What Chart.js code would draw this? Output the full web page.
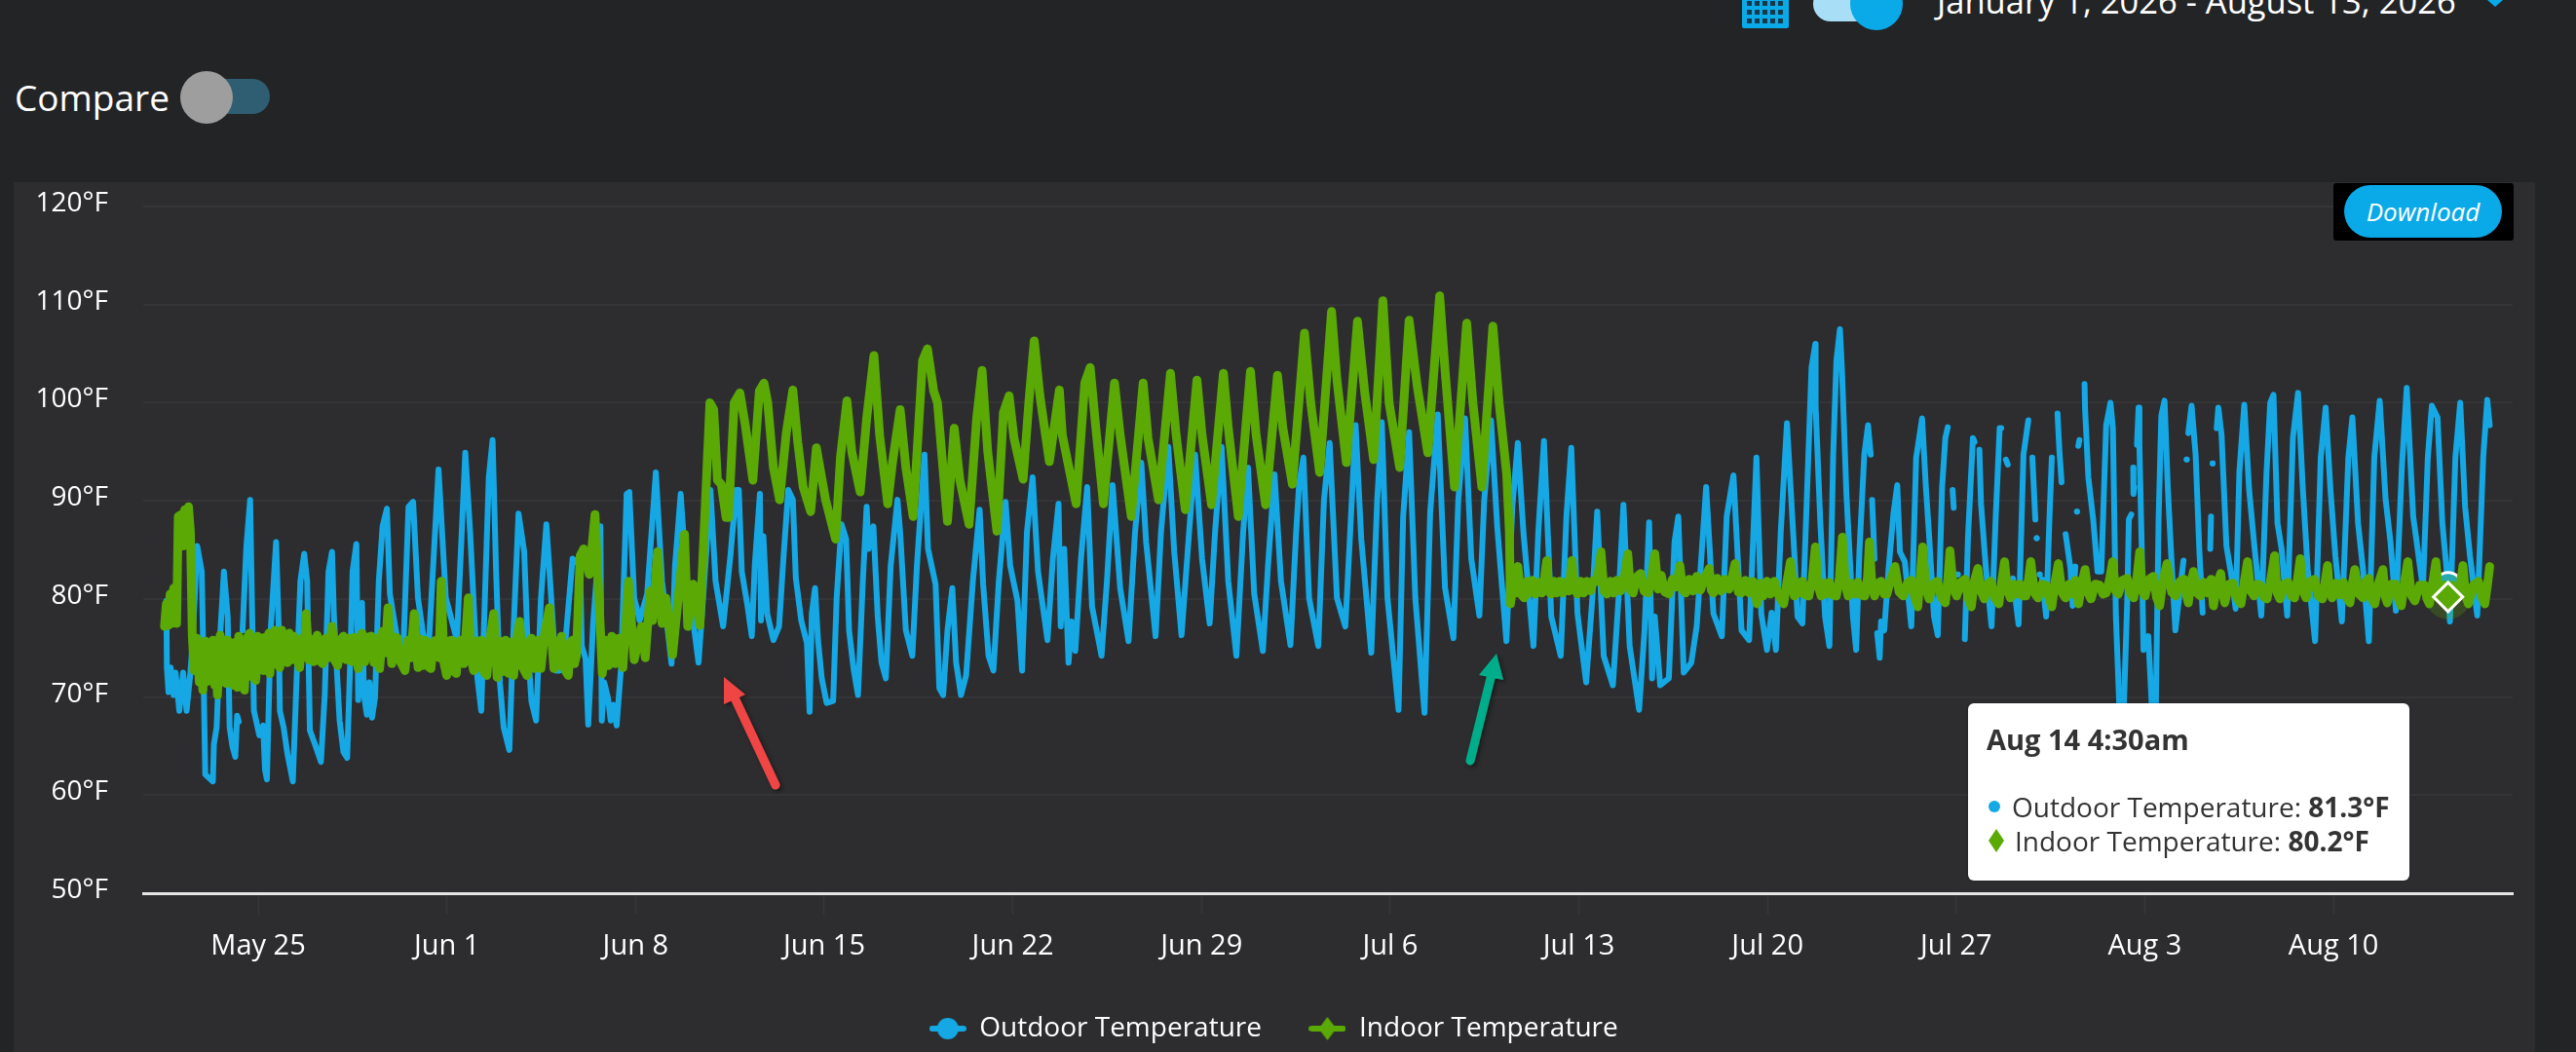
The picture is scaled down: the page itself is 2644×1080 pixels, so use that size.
<!DOCTYPE html>
<html><head><meta charset="utf-8">
<script src="https://cdn.jsdelivr.net/npm/chart.js@4"></script>
<style>
html,body{margin:0;padding:0;background:#232426;width:2644px;height:1080px;overflow:hidden;font-family:"Open Sans",sans-serif;color:#fff}
.abs{position:absolute;white-space:nowrap}
#panel{position:absolute;left:14px;top:187px;width:2588px;height:893px;background:#2d2d2f}
#chartBox{position:absolute;left:0;top:0;width:2588px;height:893px}
#tip{position:absolute;left:2020px;top:722px;width:453px;height:182px;background:#fff;border-radius:6px;color:#333;font-size:28px;box-shadow:0 0 3px rgba(0,0,0,.3)}
#tip div{position:absolute;white-space:nowrap;line-height:36px}
#tip b{font-weight:700}
</style></head><body>
<div id="panel"><div id="chartBox"><canvas id="c" width="2588" height="893"></canvas></div></div>

<div class="abs" style="left:15px;top:74px;font-size:37px;line-height:52px">Compare</div>
<div class="abs" style="left:205px;top:81px;width:72px;height:36px;border-radius:18px;background:#2f5d72"></div>
<div class="abs" style="left:185px;top:73px;width:54px;height:54px;border-radius:50%;background:#9e9e9e"></div>

<svg class="abs" id="cal" style="left:1788px;top:0" width="48" height="30"></svg>
<div class="abs" style="left:1861px;top:-14px;width:60px;height:36px;border-radius:18px;background:#a8dff7"></div>
<div class="abs" style="left:1899px;top:-23px;width:54px;height:54px;border-radius:50%;background:#0aa9e8"></div>
<div class="abs" style="left:1988px;top:-22px;font-size:34.5px;line-height:46px">January 1, 2026 - August 13, 2026</div>
<svg class="abs" style="left:2551px;top:0" width="20" height="8"><path d="M2 0 L10 7 L18 0 Z" fill="#0aa9e8"/></svg>

<div class="abs" style="left:2395px;top:188px;width:185px;height:59px;background:#000;border-radius:3px"></div>
<div class="abs" style="left:2406px;top:190px;width:162px;height:54px;border-radius:27px;background:#0aa9e8;text-align:center;font-style:italic;font-size:26px;line-height:54px">Download</div>

<div id="tip"></div>

<svg class="abs" style="left:0;top:0;pointer-events:none" width="2644" height="1080">
<defs><filter id="sh" x="-30%" y="-30%" width="160%" height="160%"><feDropShadow dx="2" dy="2" stdDeviation="2" flood-color="#000" flood-opacity=".45"/></filter></defs>
<g filter="url(#sh)">
<path d="M796 806 L752 712" stroke="#f04444" stroke-width="9" stroke-linecap="round" fill="none"/>
<path d="M743 695 L765 713 L743 723 Z" fill="#f04444"/>
<path d="M1509 781 L1531 692" stroke="#05ad8a" stroke-width="9" stroke-linecap="round" fill="none"/>
<path d="M1536 671 L1543 698 L1518 693 Z" fill="#05ad8a"/>
</g></svg>

<script>
// x values are days counted from May 25; y values are degrees Fahrenheit.
const tickDays = [0.06,7.04,14.02,21,27.98,34.96,41.94,48.92,55.9,62.88,69.86,76.84];
const tickLabels = ['May 25','Jun 1','Jun 8','Jun 15','Jun 22','Jun 29','Jul 6','Jul 13','Jul 20','Jul 27','Aug 3','Aug 10'];
const tempTicks = [50,60,70,80,90,100,110,120];
const seriesNames = ['Outdoor Temperature','Indoor Temperature'];
const hoverTitle = 'Aug 14 4:30am';
const hoverDay = 81.08;

const outdoorMay = [[-3.34,79.8],[-3.32,73],[-3.26,70.5],[-3.18,73],[-3.07,70.2],[-3,72.5],[-2.86,68.6],[-2.72,72.5],[-2.59,68.6],[-2.45,72.5],[-2.38,75.2],[-2.2,85.4],[-2.03,82.8],[-1.99,76.8],[-1.9,62.1],[-1.62,61.4],[-1.58,65.2],[-1.48,66.9],[-1.35,76.2],[-1.21,82.8],[-1.07,78.2],[-1,66.9],[-0.89,64.9],[-0.79,63.9],[-0.72,68.1],[-0.66,67.5],[-0.6,null],[-0.52,76.8],[-0.38,85.3],[-0.24,90.1],[-0.17,79.1],[-0.1,68.6],[0.1,66.1],[0.24,67.1],[0.31,62.6],[0.38,61.6],[0.52,76.8],[0.72,85.8],[0.82,76.8],[0.86,68.6],[1,66.9],[1.14,64.2],[1.34,61.4],[1.48,71.9],[1.62,81.8],[1.76,84.6],[1.87,81.8],[1.97,66.6],[2.17,65.1],[2.38,63.4],[2.52,70.2],[2.66,82.8],[2.79,84.8],[2.86,78.2],[3.07,67.6],[3.21,64.4],[3.35,63.8],[3.48,75.2],[3.55,82.8],[3.69,85.6],[3.76,69.7],[3.9,79.6],[3.97,70.2],[4.08,68.2],[4.17,71.5],[4.27,67.9],[4.38,69.9],[4.52,81.8],[4.66,87.4],[4.82,89.2],[4.93,80.5],[5.21,75.8],[5.41,73.5],[5.62,89.4],[5.79,89.9],[5.97,80.1],[6.17,76.2],[6.38,75.8]];
const outdoorJune = [[6.73,93.2],[7,80.1],[7.41,75.8],[7.72,94.9],[7.9,86.8],[8.17,71.9],[8.31,68.6],[8.59,92.4],[8.73,96.2],[8.86,82.8],[9,71.5],[9.14,66.9],[9.35,64.6],[9.48,75.2],[9.69,88.7],[9.9,84.8],[10.03,75.2],[10.17,69.5],[10.34,67.6],[10.52,80.1],[10.72,87.6],[10.86,81.8],[11.07,72.7],[11.21,72.7],[11.41,75.2],[11.69,84.1],[11.97,83.4],[12.03,75.2],[12.17,73.9],[12.27,67.2],[12.45,77.5],[12.72,87.4],[12.77,67.6],[12.86,71.5],[13,69.9],[13.1,67.6],[13.21,69.2],[13.32,67.1],[13.48,72.9],[13.69,90.7],[13.79,90.9],[13.97,80.1],[14.17,77.8],[14.45,80.5],[14.77,92.9],[15,81.8],[15.21,76.8],[15.35,73.4],[15.48,83.4],[15.69,90.7],[15.9,82.1],[16.1,78.8],[16.35,73.5],[16.52,80.1],[16.79,91.1],[16.98,81.8],[17.26,77.2],[17.53,84.4],[17.74,91.1],[17.84,91.1],[17.95,82.8],[18.15,79.5],[18.32,76.2],[18.43,83.4],[18.62,90.7],[18.66,77.8],[18.75,86.4],[18.89,78.5],[19.12,75.8],[19.33,77.2],[19.49,84.1],[19.67,91.1],[19.84,90.1],[19.95,82.1],[20.15,77.8],[20.36,75.5],[20.46,68.5],[20.54,78.5],[20.66,81.1],[20.77,75.8],[20.91,71.9],[21.09,69.4],[21.33,69.6],[21.46,80.1],[21.64,87.6],[21.81,86.1],[21.92,76.8],[22.09,72.8],[22.25,70.2],[22.43,81.8],[22.57,89.4],[22.64,85.1],[22.82,87.4],[22.98,78.2],[23.12,73.5],[23.28,71.9],[23.46,83.4],[23.71,90.1],[23.81,86.8],[24.02,76.8],[24.26,74.2],[24.43,83.4],[24.71,94.7],[24.84,85.1],[25.12,81.5],[25.26,70.9],[25.4,70.2],[25.56,76.8],[25.74,81.1],[25.88,73.5],[26.06,70.2],[26.25,72.2],[26.5,81.8],[26.75,89.1],[26.88,81.5],[27.08,74.2],[27.26,72.7],[27.46,81.8],[27.71,89.9],[27.88,83.4],[28.15,79.8],[28.32,72.7],[28.5,86.8],[28.71,92.4],[28.91,82.8],[29.26,75.8],[29.46,84.1],[29.67,89.7],[29.75,77.2],[29.88,85.1],[30.04,73.5],[30.15,77.7],[30.29,74.7],[30.5,84.1],[30.73,91.4],[30.91,79.2],[31.26,74.2],[31.46,81.8],[31.67,91.6],[31.95,81.1],[32.26,75.7],[32.5,86.8],[32.73,93.9],[32.91,85.8],[33.26,76.2],[33.46,86.8],[33.73,95.5],[33.95,84.8],[34.22,76.3],[34.5,86.8],[34.72,94.7],[34.98,84.1],[35.26,77.5],[35.46,86.8],[35.7,95.5],[35.95,81.8],[36.25,74.2],[36.5,86.8],[36.68,93.4],[36.91,80.5],[37.23,74.7]];
const outdoorJuly = [[37.42,83.4],[37.66,92.7],[37.9,81.8],[38.25,75.3],[38.46,86.8],[38.57,91.7],[38.73,94.4],[38.94,80.1],[39.28,75.2],[39.49,90.1],[39.7,95.9],[39.97,80.1],[40.28,77.2],[40.46,86.8],[40.66,97.7],[40.87,86.1],[41.24,74.5],[41.46,90.1],[41.63,98],[41.84,80.1],[42.04,74.5],[42.25,68.7],[42.42,88.4],[42.64,97],[42.87,80.1],[43.21,68.4],[43.42,88.8],[43.7,98.8],[43.97,81.1],[44.28,76],[44.46,90.1],[44.71,98.4],[44.94,84.1],[45.24,78.3],[45.42,90.1],[45.67,98.2],[45.9,87.4],[46.24,75.7],[46.46,89.4],[46.66,95.9],[46.87,86.8],[47.24,75.2],[47.42,86.8],[47.63,96.1],[47.9,78.2],[48.25,74.2],[48.46,88.4],[48.64,95.4],[48.87,78.5],[49.19,71.5],[49.42,80.1],[49.6,88.9],[49.84,74.2],[50.18,71.2],[50.39,80.1],[50.57,89.6],[50.8,75.2],[51.15,68.7],[51.35,76.8],[51.52,87.8],[51.63,71.9],[51.73,78.2],[51.93,71.2],[52.25,71.9],[52.46,85.8],[52.6,88.4],[52.8,72.5],[53.08,73.5],[53.28,77.2],[53.63,91.4],[53.9,78.5],[54.21,76.2],[54.39,88.4],[54.64,92.6],[54.94,76.8],[55.22,75.8],[55.49,94.4],[55.67,78.5],[55.88,74.8],[56.05,78.6],[56.21,74.8],[56.39,86.8],[56.62,97.9],[56.89,84.8],[57.01,78.2],[57.19,77.5],[57.37,91.4],[57.53,103.6],[57.67,106],[57.68,99.7],[57.85,88.1],[58.03,78.2],[58.19,75.2],[58.33,94.7],[58.45,104.3],[58.58,107.5],[58.66,103],[58.82,90.7],[59.06,78.2],[59.18,74.8],[59.3,84.8],[59.48,94.7],[59.62,97.7],[59.72,94.7],[59.74,null],[59.77,90.1],[59.86,84.1],[59.9,null],[59.96,76.5],[60.05,74],[60.1,77.7],[60.22,76.8],[60.38,83.1],[60.56,88.7],[60.7,91.6],[60.8,84.8],[60.98,83.8],[61.22,77.2],[61.4,94.4],[61.62,98.4],[61.76,91.4],[61.88,86.4],[62.06,78.2],[62.2,76.3],[62.36,91.4],[62.48,96.4],[62.57,97.5],[62.65,null],[62.75,91.1],[62.79,89.3],[62.85,null],[62.94,82.5],[63,null],[63.2,75.9],[63.32,86.4],[63.5,96.4],[63.56,96],[63.65,null],[63.74,95.2],[63.8,89.7],[63.98,83.1],[64.19,77.2],[64.34,88.1],[64.49,97.4],[64.55,97.4],[64.65,null],[64.72,94.2],[64.79,93.7],[64.9,null],[64.98,82.1],[65.19,77.4],[65.37,94.7],[65.55,98.2],[65.62,null],[65.7,94.4],[65.81,88.1],[65.83,null],[65.86,86.2],[65.91,null],[65.97,82.5],[66.02,null],[66.06,82],[66.21,78.2],[66.33,88.1],[66.42,94.4],[66.53,null]];
const outdoorAugust = [[66.63,98.9],[66.7,95.1],[66.78,91.9],[66.86,null],[66.93,86.6],[67.11,83.1],[67.19,79.3],[67.29,83.3],[67.32,null],[67.35,88.9],[67.38,null],[67.4,95.6],[67.44,96.2],[67.55,null],[67.63,101.9],[67.65,99.3],[67.77,92.4],[67.95,88.1],[68.11,82.8],[68.25,82.8],[68.43,97.7],[68.59,100],[68.68,97.4],[68.79,78.2],[68.91,69.5],[68.97,66],[69.05,66],[69.09,69.5],[69.21,79.8],[69.27,88.1],[69.36,88.6],[69.39,null],[69.43,93.4],[69.44,90.7],[69.47,91.4],[69.52,null],[69.57,95.7],[69.63,99.5],[69.66,95.7],[69.75,84.8],[69.81,74.8],[69.99,76.2],[70.11,69.5],[70.16,66],[70.24,66],[70.27,69.5],[70.37,88.1],[70.47,98.7],[70.59,100.2],[70.71,91.4],[70.83,84.8],[70.99,76.8],[71.14,80.4],[71.29,83.9],[71.35,null],[71.41,94.2],[71.44,null],[71.47,96.9],[71.59,99.7],[71.74,94.7],[71.88,84.8],[72,78.6],[72.1,null],[72.28,85.1],[72.31,88.4],[72.34,null],[72.37,93.8],[72.42,null],[72.52,97.4],[72.58,99.5],[72.7,96.7],[72.88,85.4],[73.06,82.4],[73.22,79],[73.36,93],[73.54,99.8],[73.72,91.1],[73.9,85.8],[74.17,78.3],[74.36,92.7],[74.5,100],[74.62,100.8],[74.77,87.7],[74.92,85.1],[75.13,78.3],[75.34,96.4],[75.53,101],[75.71,91.1],[75.89,82.8],[76.16,75.7],[76.37,94.4],[76.55,99.5],[76.73,91.1],[76.91,84.4],[77.15,77.7],[77.39,94.4],[77.54,98.5],[77.75,87.7],[77.93,83.1],[78.15,75.7],[78.35,94.4],[78.55,100.2],[78.77,90.1],[78.95,85.8],[79.15,78.8],[79.37,93.4],[79.55,101.5],[79.79,88.4],[80.15,81.1],[80.33,94.4],[80.48,99.7],[80.69,98.5],[80.87,87.7],[81.08,81.3],[81.15,77.7],[81.35,94.4],[81.53,100],[81.71,89.4],[81.89,84.4],[82.16,78.3],[82.38,94.4],[82.53,100.3],[82.62,97.7]];

const indoorStart = [[-3.41,77.2],[-3.34,79.5],[-3.27,77.3],[-3.2,80.5],[-3.14,77.5],[-3.07,81.1],[-2.96,77.5],[-2.9,88.4],[-2.79,88.6],[-2.72,85.4],[-2.66,89.1],[-2.59,85.8],[-2.52,89.4],[-2.45,86.8],[-2.38,76.2],[-2.31,72.7],[-2.21,76],[-2.12,71.5],[-2.05,75.6],[-1.99,70.7],[-1.9,75.7],[-1.83,71.6],[-1.76,75.4],[-1.69,71.9],[-1.62,75.8],[-1.55,71.2],[-1.5,75.2],[-1.45,70.2],[-1.35,76.3],[-1.28,72.1],[-1.21,75.8],[-1.14,71.4],[-1.07,75.8],[-1,71.6],[-0.93,75.4],[-0.86,71.2],[-0.79,75.6],[-0.72,71],[-0.66,76.2],[-0.58,72.2],[-0.52,75.7],[-0.45,70.7],[-0.37,75.9],[-0.27,76.5],[-0.2,72.1],[-0.1,75.8],[-0.03,71.7],[0.03,76.2],[0.1,72.8],[0.17,76],[0.24,72.7],[0.31,76.1],[0.38,73],[0.45,76.5],[0.49,72.4],[0.58,76.2],[0.68,76.8],[0.76,73.4],[0.86,73],[0.93,76.8],[1,73.6],[1.07,76.3],[1.14,73.5],[1.21,76.5],[1.3,73.8],[1.38,76.2],[1.48,74],[1.59,73],[1.68,76],[1.76,74.4],[1.83,78.5],[1.93,73.8],[2.02,75.9],[2.1,73.6],[2.24,76.3],[2.33,73.7],[2.45,73.4],[2.55,76],[2.66,74],[2.79,77.2],[2.9,73.7],[3,73.2],[3.1,75.8],[3.21,76.2],[3.31,73.8],[3.41,76],[3.52,73.6],[3.62,76.1],[3.76,72.9],[3.9,76.5],[4,73.6],[4.12,76.1],[4.24,76.2],[4.34,73.5],[4.44,76],[4.55,72.9],[4.66,76.7],[4.76,74.5],[4.86,79.1],[5,73.4],[5.1,76.1],[5.21,76],[5.32,73.6],[5.49,72.7],[5.6,75.8],[5.7,74],[5.83,78.5],[5.97,73],[6.06,75.9],[6.14,73.2],[6.24,75.8],[6.35,73.1],[6.45,72.9],[6.55,75.7],[6.66,75.8],[6.75,74],[6.83,81.8],[6.93,73.5],[7.03,72.2],[7.12,75.7],[7.21,75.8],[7.3,72.6],[7.39,72.4],[7.47,75.6],[7.55,75.8],[7.66,73.4],[7.75,76.8],[7.83,80.1],[7.93,74],[8.03,72.7],[8.12,75.7],[8.22,73],[8.31,75.8],[8.42,72.5],[8.52,72.2],[8.63,75.9],[8.77,78.5],[8.9,72],[9,75.7],[9.11,72.6],[9.21,75.8],[9.32,72.4],[9.42,75.6],[9.51,72.2],[9.62,75.9],[9.73,77.7],[9.85,73],[10,72.2],[10.08,75.6],[10.17,76],[10.28,72.9],[10.4,75.8],[10.52,72.9],[10.65,76.4],[10.83,79.1],[11,72.9],[11.09,75.7],[11.18,73.2],[11.28,76.2],[11.4,72.8],[11.53,72.2],[11.62,75.6],[11.69,75.8],[11.76,73.4],[11.83,74.2]];
const indoorJune = [[11.97,84.4],[12.1,85.1],[12.31,82.5],[12.52,88.6],[12.63,82.1],[12.72,76.8],[12.79,72.4],[12.9,75.8],[13.02,73.2],[13.14,76.2],[13.26,73.4],[13.4,76],[13.55,73],[13.76,81.8],[13.97,73.8],[14.24,77.2],[14.38,74],[14.56,80.8],[14.65,77.8],[14.83,84.8],[15,77.5],[15.14,80.1],[15.39,74.3],[15.83,86.6],[15.95,77.2],[16.15,81.5],[16.4,77.3],[16.77,100],[16.91,99.3],[17.05,92.1],[17.19,91.7],[17.37,88.3],[17.46,88.3],[17.67,100],[17.88,101],[18.08,97.7],[18.36,92.1],[18.6,101.2],[18.77,102],[18.91,100],[19.12,93.4],[19.35,90.1],[19.6,97],[19.84,101.3],[20.02,96],[20.22,91.4],[20.5,88.9],[20.71,95.4],[21.05,90.1],[21.42,86.1],[21.6,94.4],[21.84,100.2],[22.02,95],[22.33,90.9],[22.57,98.4],[22.84,104.8],[23.05,96.7],[23.35,89.7],[23.53,94],[23.81,99.3],[24.02,93.4],[24.29,88.4],[24.64,104.3],[24.82,105.5],[25.05,101.2],[25.19,100],[25.56,87.9],[25.81,97.4],[26.02,92.1],[26.36,87.6],[26.64,98.4],[26.84,103.3],[27.05,95],[27.39,86.9],[27.63,99],[27.84,100.7],[28.02,96.4],[28.36,92.2],[28.57,100],[28.77,106.3],[28.98,100.7],[29.33,94],[29.7,101.3],[29.81,96.7],[30.32,89.7],[30.64,102],[30.84,103.6],[31.05,97.4],[31.33,89.7],[31.74,102],[31.95,96.7],[32.36,88.4],[32.8,102],[32.98,96.4],[33.37,90.1],[33.81,103],[34.02,96.7],[34.36,89.1],[34.79,102.3],[34.98,96.7],[35.33,89.6],[35.77,103],[35.95,97.4],[36.32,88.4],[36.77,103.2],[36.98,96.7],[37.33,89.6]];
const indoorHeat = [[37.77,102.8],[37.97,97.4],[38.32,91.7],[38.77,107.1],[39,100],[39.33,92.9],[39.77,109.3],[39.97,102.3],[40.32,93.9],[40.73,108.3],[41,101],[41.33,94.2],[41.67,110.4],[41.9,100],[42.29,93.4],[42.64,108.4],[42.94,101.7],[43.33,94.9],[43.77,110.9],[43.97,103.3],[44.32,91.4],[44.77,108.1],[45,100],[45.33,91.4],[45.74,107.8],[45.97,100],[46.25,92.7],[46.35,86.8],[46.39,79.5]];
const indoorBandJuly = [[46.5,81.7],[46.58,80.6],[46.66,83.3],[46.78,80.5],[46.9,80.1],[47,81.8],[47.1,80.6],[47.2,81.9],[47.32,80.5],[47.44,81.7],[47.55,80.6],[47.65,82.2],[47.73,83.9],[47.82,80.7],[47.9,80.5],[48,81.8],[48.1,80.6],[48.2,81.8],[48.32,80.6],[48.44,81.7],[48.55,80.8],[48.66,83.9],[48.76,81],[48.87,80.5],[48.98,81.8],[49.1,80.6],[49.22,81.8],[49.35,80.8],[49.47,81.9],[49.6,81.8],[49.74,84.8],[49.85,80.8],[49.97,80.5],[50.08,81.8],[50.2,80.6],[50.32,81.9],[50.46,80.8],[50.6,82.2],[50.73,84.6],[50.83,80.9],[50.93,80.6],[51.05,82.2],[51.21,82.6],[51.33,80.8],[51.49,80.6],[51.6,82.1],[51.73,84.6],[51.85,81],[51.97,82.4],[52.1,80.7],[52.25,80.5],[52.38,82],[52.52,81.2],[52.66,83.4],[52.76,80.9],[52.87,80.6],[53,82],[53.14,80.8],[53.28,82.3],[53.42,80.9],[53.58,82.2],[53.74,83.1],[53.82,80.9],[53.9,80.6],[54.04,82.1],[54.18,80.8],[54.32,82],[54.48,81],[54.6,82.4],[54.7,83.6],[54.82,80.7],[54.94,80.6],[55.08,81.9],[55.22,80.6],[55.36,81.8],[55.51,79.5],[55.62,81.6],[55.74,80.3],[55.87,81.8],[56,80.5],[56.15,81.8],[56.3,80.4],[56.5,79.5],[56.62,81.8],[56.75,83.8],[56.89,80.3],[57.02,81.7],[57.12,80.6],[57.19,81.8],[57.31,80.4],[57.43,80.3],[57.55,81.9],[57.67,85.3],[57.78,81.3],[57.88,80.3],[57.98,81.6],[58.08,80.5],[58.18,81.7],[58.32,80.4],[58.45,80.3],[58.56,82.2],[58.67,86.3],[58.78,81.4],[58.88,80.3],[59,81.6],[59.12,80.5],[59.24,81.7],[59.37,80.4],[59.5,80.3],[59.6,82.2],[59.67,85.8],[59.76,81.5],[59.86,80.3],[59.98,81.6],[60.1,81.8],[60.21,80.5],[60.32,80.5],[60.46,82],[60.62,83.3],[60.77,80.7],[60.92,80.3],[61.07,81.6],[61.22,81.9],[61.34,80.2],[61.46,79.2],[61.55,82.3],[61.64,85.3],[61.76,81],[61.88,80],[62.03,81.5],[62.18,81.8],[62.33,80.2],[62.48,79.6],[62.57,82],[62.65,84.9],[62.78,81],[62.9,80.3],[63.05,81.7],[63.2,82],[63.32,80.1],[63.44,79.2],[63.56,81.9],[63.68,83.1],[63.8,80.8],[63.92,80],[64.04,81.5],[64.16,81.8],[64.31,80.1],[64.46,79.5],[64.57,81.9],[64.67,83.8],[64.78,80.8],[64.89,80.1],[65.02,81.5],[65.14,80.5],[65.25,81.5]];
const indoorBandAugust = [[65.36,80.3],[65.46,80.3],[65.55,81.9],[65.64,83.8],[65.78,80.6],[65.91,80.1],[66.06,81.5],[66.21,81.4],[66.32,80],[66.42,79.2],[66.54,81.8],[66.66,83.6],[66.8,80.6],[66.93,80.1],[67.05,81.5],[67.17,80.5],[67.29,81.9],[67.41,79.5],[67.53,81.6],[67.65,83],[67.76,80.6],[67.87,80],[68.03,81.5],[68.19,81.4],[68.31,80.5],[68.43,80.6],[68.55,81.9],[68.67,83.8],[68.78,80.8],[68.88,80.5],[69.04,81.9],[69.21,82.1],[69.33,80.5],[69.45,80.1],[69.56,82],[69.67,84.8],[69.77,80.8],[69.87,80.3],[70.02,82],[70.17,82.3],[70.29,80.2],[70.41,79.3],[70.54,82],[70.68,83.6],[70.85,80.7],[71.01,80.3],[71.16,81.8],[71.32,82],[71.4,80.4],[71.47,79.6],[71.56,81.6],[71.66,82.8],[71.79,80.6],[71.92,80.3],[72.05,81.7],[72.18,80.6],[72.31,82],[72.4,79.3],[72.53,81.5],[72.67,82.6],[72.75,80.5],[72.82,79.6],[72.97,81.5],[73.12,81.6],[73.27,80.1],[73.42,79.5],[73.54,81.8],[73.66,83.8],[73.78,80.8],[73.9,80.3],[74.02,81.5],[74.14,81.4],[74.26,80.2],[74.38,80],[74.52,82],[74.66,84.4],[74.76,80.6],[74.86,80],[75.01,81.5],[75.16,81.7],[75.28,80.3],[75.4,80.1],[75.5,81.9],[75.61,84.1],[75.72,80.7],[75.83,80.1],[75.98,81.8],[76.13,82],[76.28,80.3],[76.43,80],[76.53,81.8],[76.62,83.4],[76.7,80.7],[76.79,80.1],[76.93,81.6],[77.07,80.4],[77.21,81.7],[77.33,80.1],[77.45,79.6],[77.54,81.6],[77.63,83],[77.78,80.5],[77.93,80.1],[78.04,81.8],[78.15,82.1],[78.26,80],[78.37,79.5],[78.52,81.7],[78.67,83],[78.75,80.3],[78.83,79.6],[78.98,81.5],[79.13,81.5],[79.24,80],[79.35,79.3],[79.47,81.8],[79.59,83.8],[79.72,80.4],[79.85,79.8],[80.03,81.4],[80.21,81.4],[80.3,80],[80.39,79.5],[80.51,81.6],[80.63,83.8],[80.72,80.8],[80.81,80.5],[80.94,81.4],[81.08,80.2],[81.22,81.4],[81.35,81],[81.49,80.4],[81.63,83.4],[81.73,80.3],[81.83,79.5],[82.02,81.4],[82.2,81.8],[82.32,80.2],[82.44,79.5],[82.53,81.3],[82.62,83.3]];

const outdoorSeries = [...outdoorMay,...outdoorJune,...outdoorJuly,...outdoorAugust];
const indoorSeries = [...indoorStart,...indoorJune,...indoorHeat,...indoorBandJuly,...indoorBandAugust];

const BLUE='#15a8e5', GREEN='#5aa905', GRID='#353537';
const FONT='"Open Sans",sans-serif';
const toPts = s => s.map(([x,y])=>({x,y}));

function legendMark(kind,color){
  const c=document.createElement('canvas'); c.width=38; c.height=26;
  const g=c.getContext('2d'); g.fillStyle=color;
  g.beginPath(); g.roundRect(0,10,38,6,3); g.fill();
  g.beginPath();
  if(kind==='circle'){ g.arc(19,13,11,0,Math.PI*2); }
  else { g.moveTo(19,1); g.lineTo(28,13); g.lineTo(19,25); g.lineTo(10,13); g.closePath(); }
  g.fill();
  return c;
}
const legendMarks=[legendMark('circle',BLUE),legendMark('diamond',GREEN)];

(function(){
  let h='<rect x="0" y="-6" width="48" height="35" rx="2" fill="#0aa9e8"/>';
  [1,10,19].forEach(y=>[5,13,21,29,37].forEach(x=>{h+=`<rect x="${x}" y="${y}" width="5" height="5" fill="#17384a"/>`;}));
  document.getElementById('cal').innerHTML=h;
})();

function htmlTip({tooltip}){
  const el=document.getElementById('tip');
  const pts=tooltip.dataPoints||[];
  if(!pts.length) return;
  const marks=[`<svg width="14" height="14" style="position:absolute;left:20px;top:11px"><circle cx="7" cy="7" r="6" fill="${BLUE}"/></svg>`,
               `<svg width="16" height="24" style="position:absolute;left:21px;top:6px"><path d="M8 0L16 12L8 24L0 12Z" fill="${GREEN}"/></svg>`];
  let h=`<div style="left:19px;top:19px;font-weight:700;font-size:29px">${tooltip.title[0]}</div>`;
  pts.forEach((p,i)=>{
    const top=88+i*35;
    h+=`<div style="left:0;top:${top}px;width:100%;height:36px">${marks[i]}<span style="position:absolute;left:${i?48:45}px;top:0">${p.dataset.label}: <b>${p.parsed.y.toFixed(1)}°F</b></span></div>`;
  });
  el.innerHTML=h;
}

const haloPlugin={
  id:'halo',
  afterLayout(chart){ const lg=chart.legend; if(lg){ lg.left+=11; lg.right+=11; } },
  afterDatasetDraw(chart,args){
    if(args.index!==0) return;
    const pts=chart.getActiveElements().filter(a=>a.datasetIndex===1);
    if(!pts.length) return;
    const g=chart.ctx,p=pts[0].element;
    g.save(); g.fillStyle='rgba(90,169,5,0.25)';
    g.beginPath(); g.arc(p.x,p.y,23,0,Math.PI*2); g.fill(); g.restore();
  }
};

const isolated = ctx => {
  const d=ctx.dataset.data,i=ctx.dataIndex;
  if(!d[i]||d[i].y===null) return 0;
  const a=d[i-1],b=d[i+1];
  return (a&&a.y===null&&b&&b.y===null)?3:0;
};

const PLOT_BOTTOM_BAND=163;
const chart=new Chart(document.getElementById('c'),{
  type:'line',
  plugins:[haloPlugin],
  data:{datasets:[
    {label:seriesNames[0],data:toPts(outdoorSeries),order:2,borderColor:BLUE,backgroundColor:BLUE,borderWidth:6,
     borderCapStyle:'round',borderJoinStyle:'round',tension:0,spanGaps:false,
     pointRadius:isolated,pointBorderWidth:0,pointBackgroundColor:BLUE,
     pointHoverRadius:14,pointHoverBackgroundColor:BLUE,pointHoverBorderColor:'#fff',pointHoverBorderWidth:3},
    {label:seriesNames[1],data:toPts(indoorSeries),order:1,borderColor:GREEN,backgroundColor:GREEN,borderWidth:9,
     borderCapStyle:'round',borderJoinStyle:'round',tension:0,spanGaps:false,
     pointRadius:0,pointStyle:'rectRot',pointBorderWidth:0,
     pointHoverRadius:15,pointHoverBackgroundColor:GREEN,pointHoverBorderColor:'#fff',pointHoverBorderWidth:3}
  ]},
  options:{
    responsive:false,animation:false,events:[],
    layout:{padding:{top:25,right:23,left:0,bottom:0}},
    scales:{
      x:{type:'linear',min:-4.196,max:83.47,
        afterBuildTicks:s=>{s.ticks=tickDays.map(v=>({value:v}));},
        afterFit:s=>{const lg=s.chart.legend;s.height=PLOT_BOTTOM_BAND-(lg?lg.height:0);},
        grid:{drawOnChartArea:false,drawTicks:true,tickLength:22,tickColor:GRID,tickWidth:2},
        border:{display:true,color:'#e6e6e6',width:3},
        ticks:{color:'#fff',font:{family:FONT,size:29},padding:15,autoSkip:false,maxRotation:0,
          callback:v=>tickLabels[tickDays.indexOf(v)]}},
      y:{min:tempTicks[0],max:tempTicks[tempTicks.length-1],
        afterBuildTicks:s=>{s.ticks=tempTicks.map(v=>({value:v}));},
        afterFit:s=>{s.width=133;s.paddingTop=0;s.paddingBottom=0;},
        grid:{color:GRID,lineWidth:2,drawTicks:false},
        border:{display:false},
        ticks:{color:'#fff',font:{family:FONT,size:28},padding:36,labelOffset:-3,callback:v=>v+'°F'}}
    },
    plugins:{
      legend:{position:'bottom',
        labels:{color:'#fff',font:{family:FONT,size:28},usePointStyle:true,pointStyleWidth:37,boxHeight:26,padding:49,
          generateLabels:c=>c.data.datasets.map((d,i)=>({text:d.label,fontColor:'#fff',pointStyle:legendMarks[i],datasetIndex:i,lineWidth:0,strokeStyle:'transparent',fillStyle:'transparent'}))}},
      tooltip:{enabled:false,external:htmlTip,callbacks:{title:()=>hoverTitle}}
    }
  }
});
const active=[
  {datasetIndex:0,index:outdoorSeries.findIndex(p=>p[0]===hoverDay)},
  {datasetIndex:1,index:indoorSeries.findIndex(p=>p[0]===hoverDay)}
];
chart.setActiveElements(active);
chart.tooltip.setActiveElements(active,{x:0,y:0});
chart.update();
</script>
</body></html>
